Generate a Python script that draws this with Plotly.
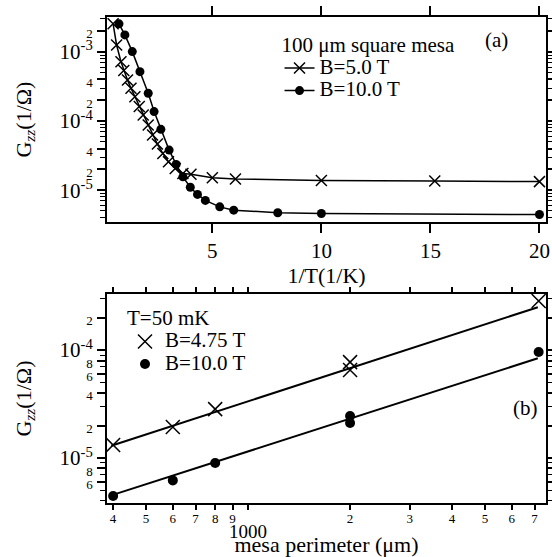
import plotly.graph_objects as go

# ---------------- panel (a) data ----------------
invT_5 = [0.45, 0.61, 0.81, 0.94, 1.11, 1.27, 1.45, 1.65, 1.83, 2.06, 2.26, 2.48,
          2.73, 2.99, 3.30, 3.65, 4.02, 5.0, 6.06, 10.0, 15.2, 20.0]
G_5 = [2.55e-3, 1.26e-3, 7.2e-4, 5.4e-4, 3.93e-4, 2.98e-4, 2.25e-4, 1.62e-4, 1.22e-4,
       8.75e-5, 6.27e-5, 4.64e-5, 3.4e-5, 2.57e-5, 2.06e-5, 1.74e-5, 1.7e-5, 1.51e-5,
       1.45e-5, 1.38e-5, 1.36e-5, 1.33e-5]
invT_10 = [0.72, 0.99, 1.33, 1.68, 2.06, 2.33, 2.64, 3.02, 3.34, 3.65, 3.99, 4.32,
           4.68, 5.34, 5.98, 8.0, 10.0, 20.0]
G_10 = [2.55e-3, 1.76e-3, 1.01e-3, 5.18e-4, 2.52e-4, 1.37e-4, 7.59e-5, 3.8e-5, 2.36e-5,
        1.56e-5, 1.1e-5, 8.67e-6, 7.1e-6, 5.73e-6, 5.13e-6, 4.72e-6, 4.6e-6, 4.44e-6]

# ---------------- panel (b) data ----------------
perim_475 = [400, 600, 800, 2000, 2000, 7200]
G_475 = [1.32e-5, 1.94e-5, 2.84e-5, 7.74e-5, 6.53e-5, 2.85e-4]
perim_10 = [400, 600, 800, 2000, 2000, 7200]
G_10b = [4.45e-6, 6.2e-6, 9.0e-6, 2.45e-5, 2.11e-5, 9.6e-5]
fit_perim = [395, 7160]
fit_475 = [1.3e-5, 2.5e-4]
fit_10 = [4.5e-6, 8.4e-5]

# ---------------- tick definitions ----------------
xa_ticks = [5, 10, 15, 20]
ya_major = [2e-3, 1e-3, 4e-4, 2e-4, 1e-4, 4e-5, 2e-5, 1e-5]
ya_labels = ["2", "10<sup>-3</sup>", "4", "2", "10<sup>-4</sup>", "4", "2", "10<sup>-5</sup>"]
ya_minor = [3e-3, 9e-4, 8e-4, 7e-4, 6e-4, 5e-4, 3e-4, 9e-5, 8e-5, 7e-5, 6e-5, 5e-5, 3e-5,
            9e-6, 8e-6, 7e-6, 6e-6, 5e-6, 4e-6]
xb_ticks = [400, 500, 600, 700, 800, 900, 1000, 2000, 3000, 4000, 5000, 6000, 7000]
xb_labels = ["4", "5", "6", "7", "8", "9", "1000", "2", "3", "4", "5", "6", "7"]
yb_major = [2e-4, 1e-4, 8e-5, 6e-5, 4e-5, 2e-5, 1e-5, 8e-6, 6e-6]
yb_labels = ["2", "10<sup>-4</sup>", "8", "6", "4", "2", "10<sup>-5</sup>", "8", "6"]
yb_minor = [3e-4, 9e-5, 7e-5, 5e-5, 3e-5, 9e-6, 7e-6, 5e-6, 4e-6]

FONT = "Liberation Serif, Times New Roman, serif"
SMALL = 13
BIG = 21


def small(t):
    return t if "sup" in t else f"<span style='font-size:{SMALL}px'>{t}</span>"


def xlab(t):
    if t == "1000":
        return "<br><span style='font-size:19px'>1000</span>"
    return f"<span style='font-size:{SMALL}px'>{t}</span>"


def big(t):
    return f"<span style='font-size:{BIG}px'>{t}</span>"


fig = go.Figure()

fig.add_trace(go.Scatter(x=invT_5, y=G_5, mode="lines+markers", name=big("B=5.0 T"),
                         line=dict(color="black", width=1.5),
                         marker=dict(symbol="x-thin", size=11, line=dict(width=1.5, color="black")),
                         xaxis="x", yaxis="y", legend="legend"))
fig.add_trace(go.Scatter(x=invT_10, y=G_10, mode="lines+markers", name=big("B=10.0 T"),
                         line=dict(color="black", width=1.5),
                         marker=dict(symbol="circle", size=9, color="black"),
                         xaxis="x", yaxis="y", legend="legend"))

fig.add_trace(go.Scatter(x=fit_perim, y=fit_475, mode="lines", showlegend=False,
                         line=dict(color="black", width=2), xaxis="x2", yaxis="y2"))
fig.add_trace(go.Scatter(x=fit_perim, y=fit_10, mode="lines", showlegend=False,
                         line=dict(color="black", width=2), xaxis="x2", yaxis="y2"))
fig.add_trace(go.Scatter(x=perim_475, y=G_475, mode="markers", name=big("B=4.75 T"),
                         marker=dict(symbol="x-thin", size=14, line=dict(width=1.5, color="black")),
                         xaxis="x2", yaxis="y2", legend="legend2"))
fig.add_trace(go.Scatter(x=perim_10, y=G_10b, mode="markers", name=big("B=10.0 T"),
                         marker=dict(symbol="circle", size=10, color="black"),
                         xaxis="x2", yaxis="y2", legend="legend2"))

axis_common = dict(showline=True, linecolor="black", linewidth=2, mirror="ticks",
                   ticks="outside", tickcolor="black", showgrid=False, zeroline=False,
                   automargin=False,
                   tickfont=dict(family=FONT, size=21, color="black"))

fig.update_layout(
    template="none",
    width=552, height=557,
    margin=dict(l=107, r=6, t=17, b=54),
    paper_bgcolor="white", plot_bgcolor="white",
    font=dict(family=FONT, size=20, color="black"),
    xaxis=dict(**axis_common, domain=[0, 1], anchor="y", range=[0.17, 20.3],
               tickvals=xa_ticks, ticklen=9, tickwidth=1.5,
               title=dict(text="1/T(1/K)", font=dict(size=22), standoff=0)),
    yaxis=dict(**axis_common, domain=[0.578, 1.0], anchor="x", type="log",
               range=[-5.462, -2.495], tickvals=ya_major,
               ticktext=[small(t) for t in ya_labels], ticklen=8, tickwidth=1.5,
               minor=dict(tickvals=ya_minor, ticklen=5, ticks="outside", tickcolor="black",
                          tickwidth=1.2),
               title=dict(text="G<sub><i>zz</i></sub>(1/Ω)", font=dict(size=22), standoff=22)),
    xaxis2=dict(**{**axis_common, "tickfont": dict(family=FONT, size=11, color="black")},
                domain=[0, 1], anchor="y2", type="log",
                range=[2.584, 3.879], tickvals=xb_ticks, tickangle=0,
                ticktext=[xlab(t) for t in xb_labels], ticklen=5, tickwidth=1.5,
                title=dict(text="mesa perimeter (μm)", font=dict(size=22), standoff=0)),
    yaxis2=dict(**axis_common, domain=[0, 0.430], anchor="x2", type="log",
                range=[-5.417, -3.48], tickvals=yb_major,
                ticktext=[small(t) for t in yb_labels], ticklen=8, tickwidth=1.5,
                minor=dict(tickvals=yb_minor, ticklen=5, ticks="outside", tickcolor="black",
                           tickwidth=1.2),
                title=dict(text="G<sub><i>zz</i></sub>(1/Ω)", font=dict(size=22), standoff=22)),
    legend=dict(x=0.393, y=0.9685, xanchor="left", yanchor="top",
                bgcolor="rgba(0,0,0,0)", borderwidth=0,
                title=dict(text=big("100 μm square mesa"), font=dict(size=15)),
                font=dict(size=15), tracegroupgap=0, itemwidth=30),
    legend2=dict(x=0.041, y=0.406, xanchor="left", yanchor="top",
                 bgcolor="rgba(0,0,0,0)", borderwidth=0,
                 title=dict(text=big("T=50 mK"), font=dict(size=15)),
                 font=dict(size=15), tracegroupgap=0, itemwidth=30),
    annotations=[
        dict(text="(a)", x=0.888, y=0.953, xref="paper", yref="paper",
             xanchor="center", yanchor="middle",
             showarrow=False, font=dict(size=21)),
        dict(text="(b)", x=0.954, y=0.195, xref="paper", yref="paper",
             xanchor="center", yanchor="middle",
             showarrow=False, font=dict(size=21)),
    ],
)

fig.write_html("out.html", config={"displayModeBar": False},
               post_script="document.body.style.margin='0';document.body.style.overflow='hidden';")
